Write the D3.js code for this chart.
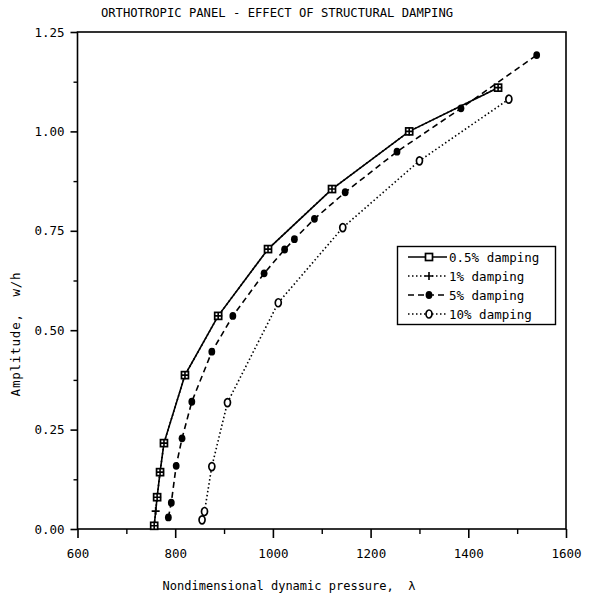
<!DOCTYPE html>
<html lang="en">
<head>
    <meta charset="UTF-8">
    <title>Orthotropic panel - structural damping</title>
    <script src="https://cdn.jsdelivr.net/npm/d3@7"></script>
    <style>
        body { margin: 0; background: #fff; }
        text { font-family: "DejaVu Sans Mono", "Liberation Mono", monospace; fill: #000; }
    </style>
</head>
<body>
<div id="chart"></div>
<script>
    // values (lambda, w/h)
    var lam05 = [757, 763, 769, 777, 820, 888, 990, 1121, 1279, 1461];
    var amp05 = [0.008, 0.08, 0.143, 0.216, 0.387, 0.536, 0.704, 0.855, 1.0, 1.11];

    var lam1 = [757, 760, 763, 769, 777, 820, 888, 990, 1121, 1279, 1461];
    var amp1 = [0.008, 0.045, 0.08, 0.143, 0.216, 0.387, 0.536, 0.704, 0.855, 1.0, 1.11];

    var lam5 = [786, 792, 802, 814, 834, 875, 918, 982, 1024, 1044, 1085, 1148, 1254, 1385, 1540];
    var amp5 = [0.029, 0.066, 0.159, 0.228, 0.32, 0.446, 0.536, 0.643, 0.703, 0.729, 0.78, 0.847, 0.949, 1.058, 1.192];

    var lam10 = [855, 860, 875, 907, 1011, 1143, 1300, 1483];
    var amp10 = [0.023, 0.044, 0.157, 0.318, 0.569, 0.758, 0.926, 1.081];

    var xTicks = [600, 800, 1000, 1200, 1400, 1600];
    var yTicks = [0, 0.25, 0.5, 0.75, 1.0, 1.25];
    var legendLabels = ['0.5% damping', '1% damping', '5% damping', '10% damping'];

    var W = 606, H = 601;
    var padL = 77.5, padR = 566, padT = 32, padB = 529;

    var svg = d3.select('#chart').append('svg')
            .attr('width', W)
            .attr('height', H);

    var x = d3.scaleLinear().domain([600, 1600]).range([padL, padR]);
    var y = d3.scaleLinear().domain([0, 1.25]).range([padB, padT]);

    // frame
    svg.append('rect')
            .attr('x', padL).attr('y', padT)
            .attr('width', padR - padL).attr('height', padB - padT)
            .attr('fill', 'none').attr('stroke', '#000').attr('stroke-width', 1.6);

    // x axis: major ticks with labels, minor ticks between
    var xAxis = d3.axisBottom(x).tickValues(xTicks).tickSize(9).tickPadding(11)
            .tickFormat(d3.format('d'));
    var gx = svg.append('g').attr('transform', 'translate(0,' + padB + ')').call(xAxis);
    gx.select('.domain').remove();
    gx.selectAll('line').attr('stroke-width', 1.6);
    gx.selectAll('text').style('font-size', '12.5px').attr('fill', '#000');

    var xMinor = d3.axisBottom(x).tickValues([700, 900, 1100, 1300, 1500]).tickSize(5).tickFormat('');
    var gxm = svg.append('g').attr('transform', 'translate(0,' + padB + ')').call(xMinor);
    gxm.select('.domain').remove();
    gxm.selectAll('line').attr('stroke-width', 1.4);

    var yAxis = d3.axisLeft(y).tickValues(yTicks).tickSize(7).tickPadding(6)
            .tickFormat(d3.format('.2f'));
    var gy = svg.append('g').attr('transform', 'translate(' + padL + ',0)').call(yAxis);
    gy.select('.domain').remove();
    gy.selectAll('line').attr('stroke-width', 1.6);
    gy.selectAll('text').style('font-size', '12.5px').attr('fill', '#000');

    var yMinor = d3.axisLeft(y).tickValues([0.125, 0.375, 0.625, 0.875, 1.125]).tickSize(4).tickFormat('');
    var gym = svg.append('g').attr('transform', 'translate(' + padL + ',0)').call(yMinor);
    gym.select('.domain').remove();
    gym.selectAll('line').attr('stroke-width', 1.4);

    // titles
    svg.append('text')
            .attr('x', 277).attr('y', 17)
            .attr('text-anchor', 'middle')
            .style('font-size', '12.2px')
            .text('ORTHOTROPIC PANEL - EFFECT OF STRUCTURAL DAMPING');

    svg.append('text')
            .attr('x', 289).attr('y', 590)
            .attr('text-anchor', 'middle')
            .style('font-size', '12px')
            .attr('xml:space', 'preserve')
            .text('Nondimensional dynamic pressure,  \u03bb');

    svg.append('text')
            .attr('transform', 'translate(20,334) rotate(-90)')
            .attr('text-anchor', 'middle')
            .style('font-size', '12.5px')
            .style('letter-spacing', '0.8px')
            .attr('xml:space', 'preserve')
            .text('Amplitude,  w/h');

    // series
    var series = [
        {lam: lam05, amp: amp05, dash: null, marker: 'square'},
        {lam: lam1, amp: amp1, dash: '1.5,2.5', marker: 'plus'},
        {lam: lam5, amp: amp5, dash: '6,4', marker: 'dot'},
        {lam: lam10, amp: amp10, dash: '1.5,2.5', marker: 'ring'}
    ];

    var line = d3.line()
            .x(function(d){ return x(d[0]); })
            .y(function(d){ return y(d[1]); });

    var drawMarker = function(g, kind){
        if (kind === 'square') {
            g.append('rect').attr('x', -3.5).attr('y', -3.5).attr('width', 7).attr('height', 7)
                    .attr('fill', '#fff').attr('stroke', '#000').attr('stroke-width', 1.7);
        } else if (kind === 'plus') {
            g.append('path').attr('d', 'M-4,0H4M0,-4V4')
                    .attr('stroke', '#000').attr('stroke-width', 1.6);
        } else if (kind === 'dot') {
            g.append('ellipse').attr('rx', 3.4).attr('ry', 3.9).attr('fill', '#000');
        } else {
            g.append('ellipse').attr('rx', 3).attr('ry', 4)
                    .attr('fill', '#fff').attr('stroke', '#000').attr('stroke-width', 1.7);
        }
    };

    series.forEach(function(s){
        var pts = s.lam.map(function(v, i){ return [v, s.amp[i]]; });
        svg.append('path')
                .datum(pts)
                .attr('d', line)
                .attr('fill', 'none')
                .attr('stroke', '#000')
                .attr('stroke-width', 1.6)
                .attr('stroke-dasharray', s.dash);
    });

    // markers drawn after lines
    [series[0], series[2], series[3], series[1]].forEach(function(s){
        var pts = s.lam.map(function(v, i){ return [v, s.amp[i]]; });
        svg.append('g').selectAll('g')
                .data(pts)
                .enter()
                .append('g')
                .attr('transform', function(d){ return 'translate(' + x(d[0]) + ',' + y(d[1]) + ')'; })
                .each(function(){ drawMarker(d3.select(this), s.marker); });
    });

    // legend
    var lg = svg.append('g');
    lg.append('rect')
            .attr('x', 397.5).attr('y', 246.5).attr('width', 158).attr('height', 78)
            .attr('fill', '#fff').attr('stroke', '#000').attr('stroke-width', 1.4);

    var ly = d3.scaleLinear().domain([0, 3]).range([257, 314]);
    series.forEach(function(s, i){
        var row = lg.append('g').attr('transform', 'translate(0,' + ly(i) + ')');
        row.append('line')
                .attr('x1', 408).attr('x2', 447).attr('y1', 0).attr('y2', 0)
                .attr('stroke', '#000').attr('stroke-width', 1.6)
                .attr('stroke-dasharray', s.dash);
        var m = row.append('g').attr('transform', 'translate(429,0)');
        drawMarker(m, s.marker);
        row.append('text')
                .attr('x', 449).attr('y', 4.5)
                .style('font-size', '12.5px')
                .text(legendLabels[i]);
    });
</script>
</body>
</html>
